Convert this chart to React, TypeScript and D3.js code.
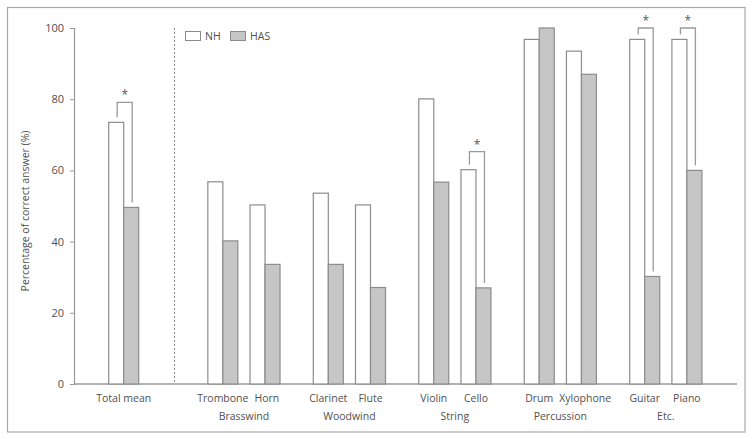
import * as d3 from 'd3'
import React, { useEffect, useRef } from 'react'

// instruments with their group (Total mean stands alone)
const instruments = ['Total mean', 'Trombone', 'Horn', 'Clarinet', 'Flute', 'Violin', 'Cello', 'Drum', 'Xylophone', 'Guitar', 'Piano']
const groupOf = ['', 'Brasswind', 'Brasswind', 'Woodwind', 'Woodwind', 'String', 'String', 'Percussion', 'Percussion', 'Etc.', 'Etc.']
const groups = ['Brasswind', 'Woodwind', 'String', 'Percussion', 'Etc.']

const nhValues = [73.5, 56.8, 50.3, 53.6, 50.3, 80.1, 60.2, 96.8, 93.5, 96.8, 96.8]
const hasValues = [49.6, 40.2, 33.6, 33.6, 27.1, 56.7, 27, 100, 87, 30.2, 60]

// significance brackets: instrument index and bracket height (%)
const sigIndex = [0, 6, 9, 10]
const sigHeight = [79.1, 65.3, 100, 100]

const yTicks = [0, 20, 40, 60, 80, 100]

const W = 753
const H = 439

const App = () => {
  const ref = useRef<SVGSVGElement>(null)

  useEffect(() => {
    const svg = d3.select(ref.current)
    svg.selectAll('*').remove()

    const font = "'Open Sans', 'DejaVu Sans', sans-serif"
    const textColor = '#505050'
    const axisColor = '#9a9a9a'
    const fs = 10.5

    // slot positions: step 2 within a group, 3 between groups
    const slots: number[] = []
    let s = 0
    instruments.forEach((_, i) => {
      if (i === 0) s = 0
      else if (i === 1) s = 4.7
      else s += groupOf[i] === groupOf[i - 1] ? 2 : 3
      slots.push(s)
    })

    const x = d3.scaleLinear().domain([0, 26.7]).range([123.7, 686.9])
    const y = d3.scaleLinear().domain([0, 100]).range([384, 28])
    const bw = 15

    // frame
    svg.append('rect')
      .attr('x', 7.5).attr('y', 7.5)
      .attr('width', 737.5).attr('height', 424.5)
      .attr('fill', 'none').attr('stroke', '#a8a8a8').attr('stroke-width', 1.2)

    // y axis
    const yAxis = d3.axisLeft(y).tickValues(yTicks).tickSize(4).tickPadding(6)
    const yg = svg.append('g').attr('transform', 'translate(74,0)').call(yAxis)
    yg.select('.domain').attr('stroke', axisColor).attr('stroke-width', 1.2)
    yg.selectAll('.tick line').attr('stroke', axisColor)
    yg.selectAll('.tick text').attr('fill', textColor).attr('font-size', 11).attr('font-family', font)

    // x axis line
    svg.append('line')
      .attr('x1', 74).attr('x2', 737)
      .attr('y1', y(0)).attr('y2', y(0))
      .attr('stroke', axisColor).attr('stroke-width', 1.5)

    // dashed separator
    svg.append('line')
      .attr('x1', 174.5).attr('x2', 174.5)
      .attr('y1', y(100)).attr('y2', y(0))
      .attr('stroke', '#8a8a8a').attr('stroke-dasharray', '2,2')

    // bars
    const bars = svg.append('g')
    instruments.forEach((_, i) => {
      const cx = x(slots[i])
      bars.append('rect')
        .attr('x', cx - bw).attr('y', y(nhValues[i]))
        .attr('width', bw).attr('height', y(0) - y(nhValues[i]))
        .attr('fill', '#fff').attr('stroke', '#8c8c8c').attr('stroke-width', 1.2)
      bars.append('rect')
        .attr('x', cx).attr('y', y(hasValues[i]))
        .attr('width', bw).attr('height', y(0) - y(hasValues[i]))
        .attr('fill', '#c6c6c6').attr('stroke', '#8c8c8c').attr('stroke-width', 1.2)
    })

    // significance brackets
    sigIndex.forEach((idx, k) => {
      const cx = x(slots[idx])
      const x1 = cx - bw / 2 + 1
      const x2 = cx + bw / 2 + 1
      const top = y(sigHeight[k])
      svg.append('path')
        .attr('d', `M${x1},${y(nhValues[idx]) - 5}V${top}H${x2}V${y(hasValues[idx]) - 5}`)
        .attr('fill', 'none').attr('stroke', '#9a9a9a').attr('stroke-width', 1.3)
      svg.append('text')
        .attr('x', (x1 + x2) / 2).attr('y', top - 3)
        .attr('text-anchor', 'middle')
        .attr('font-size', 12).attr('font-family', font).attr('fill', '#555')
        .text('*')
    })

    // instrument labels, nudged right when they would collide
    let prevRight = -Infinity
    instruments.forEach((name, i) => {
      const t = svg.append('text')
        .attr('x', x(slots[i])).attr('y', 402)
        .attr('text-anchor', 'middle')
        .attr('font-size', fs).attr('font-family', font).attr('fill', textColor)
        .text(name)
      const node = t.node() as SVGTextElement
      const w = node.getComputedTextLength()
      let cx = x(slots[i])
      if (cx - w / 2 < prevRight + 6) {
        cx = prevRight + 6 + w / 2
        t.attr('x', cx)
      }
      prevRight = cx + w / 2
    })

    // group labels
    groups.forEach((g) => {
      const idx = groupOf.map((d, i) => (d === g ? i : -1)).filter((i) => i >= 0)
      const cx = d3.mean(idx, (i) => x(slots[i])) as number
      svg.append('text')
        .attr('x', cx).attr('y', 420)
        .attr('text-anchor', 'middle')
        .attr('font-size', fs).attr('font-family', font).attr('fill', textColor)
        .text(g)
    })

    // y label
    svg.append('text')
      .attr('transform', 'translate(29,211) rotate(-90)')
      .attr('text-anchor', 'middle')
      .attr('font-size', fs).attr('font-family', font).attr('fill', textColor)
      .text('Percentage of correct answer (%)')

    // legend
    const legend = svg.append('g')
    const items = [
      { label: 'NH', fill: '#fff', x: 185 },
      { label: 'HAS', fill: '#c6c6c6', x: 230 },
    ]
    items.forEach((it) => {
      legend.append('rect')
        .attr('x', it.x + 0.5).attr('y', 31.5).attr('width', 15).attr('height', 9)
        .attr('fill', it.fill).attr('stroke', '#8c8c8c')
      legend.append('text')
        .attr('x', it.x + 20).attr('y', 40)
        .attr('font-size', fs).attr('font-family', font).attr('fill', textColor)
        .text(it.label)
    })
  }, [])

  return <svg ref={ref} width={W} height={H} style={{ position: 'absolute', left: 0, top: 0, background: '#fff' }} />
}

export default App
